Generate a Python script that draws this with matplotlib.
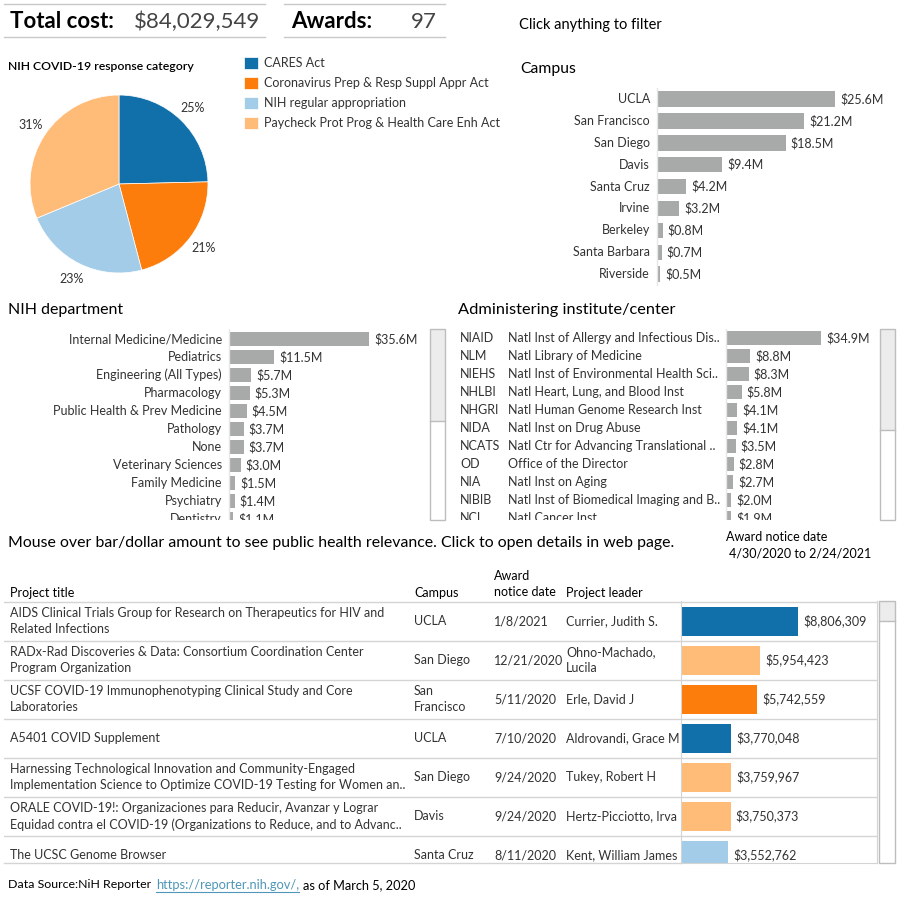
import matplotlib
matplotlib.use("Agg")
import matplotlib.pyplot as plt
from matplotlib.patches import Rectangle
from matplotlib.lines import Line2D

plt.rcParams['font.family'] = ['Lato', 'DejaVu Sans']

# ---------------- data ----------------
total_cost = "$84,029,549"
n_awards = "97"

categories = ["CARES Act", "Coronavirus Prep & Resp Suppl Appr Act",
              "NIH regular appropriation", "Paycheck Prot Prog & Health Care Enh Act"]
category_amounts = [20.7, 17.9, 19.2, 26.3]   # $M
cat_colors = ["#1170aa", "#fc7d0b", "#a3cce9", "#ffbc79"]

campuses = ["UCLA", "San Francisco", "San Diego", "Davis", "Santa Cruz",
            "Irvine", "Berkeley", "Santa Barbara", "Riverside"]
campus_amounts = [25.6, 21.2, 18.5, 9.4, 4.2, 3.2, 0.8, 0.7, 0.5]

departments = ["Internal Medicine/Medicine", "Pediatrics", "Engineering (All Types)",
               "Pharmacology", "Public Health & Prev Medicine", "Pathology", "None",
               "Veterinary Sciences", "Family Medicine", "Psychiatry", "Dentistry"]
dept_amounts = [35.6, 11.5, 5.7, 5.3, 4.5, 3.7, 3.7, 3.0, 1.5, 1.4, 1.1]

inst_codes = ["NIAID", "NLM", "NIEHS", "NHLBI", "NHGRI", "NIDA", "NCATS",
              "OD", "NIA", "NIBIB", "NCI"]
inst_names = ["Natl Inst of Allergy and Infectious Dis..", "Natl Library of Medicine",
              "Natl Inst of Environmental Health Sci..", "Natl Heart, Lung, and Blood Inst",
              "Natl Human Genome Research Inst", "Natl Inst on Drug Abuse",
              "Natl Ctr for Advancing Translational ..", "Office of the Director",
              "Natl Inst on Aging", "Natl Inst of Biomedical Imaging and B..",
              "Natl Cancer Inst"]
inst_amounts = [34.9, 8.8, 8.3, 5.8, 4.1, 4.1, 3.5, 2.8, 2.7, 2.0, 1.9]

proj_titles = ["AIDS Clinical Trials Group for Research on Therapeutics for HIV and\nRelated Infections",
               "RADx-Rad Discoveries & Data: Consortium Coordination Center\nProgram Organization",
               "UCSF COVID-19 Immunophenotyping Clinical Study and Core\nLaboratories",
               "A5401 COVID Supplement",
               "Harnessing Technological Innovation and Community-Engaged\nImplementation Science to Optimize COVID-19 Testing for Women an..",
               "ORALE COVID-19!: Organizaciones para Reducir, Avanzar y Lograr\nEquidad contra el COVID-19 (Organizations to Reduce, and to Advanc..",
               "The UCSC Genome Browser"]
proj_campus = ["UCLA", "San Diego", "San\nFrancisco", "UCLA", "San Diego", "Davis", "Santa Cruz"]
proj_dates = ["1/8/2021", "12/21/2020", "5/11/2020", "7/10/2020", "9/24/2020", "9/24/2020", "8/11/2020"]
proj_leaders = ["Currier, Judith S.", "Ohno-Machado,\nLucila", "Erle, David J", "Aldrovandi, Grace M",
                "Tukey, Robert H", "Hertz-Picciotto, Irva", "Kent, William James"]
proj_amounts = [8806309, 5954423, 5742559, 3770048, 3759967, 3750373, 3552762]
proj_category = [0, 3, 1, 0, 3, 3, 2]

# ---------------- layout helpers (pixel coords, 900x900) ----------------
W = H = 900
def fx(x): return x / W
def fy(y): return 1 - y / H

TXT = "#333333"
GRAY_BAR = "#a7aaa9"
LINE = "#d4d4d4"

fig = plt.figure(figsize=(9, 9), dpi=100)
fig.patch.set_facecolor("white")

def ftext(x, y, s, **kw):
    kw.setdefault("color", TXT)
    kw.setdefault("va", "center")
    fig.text(fx(x), fy(y), s, **kw)

def hline_px(x0, x1, y, color="#c8c8c8", lw=1.0):
    fig.add_artist(Line2D([fx(x0), fx(x1)], [fy(y), fy(y)], color=color, lw=lw))

def scrollbar(x0, x1, y0, y1, thumb_end):
    fig.add_artist(Rectangle((fx(x0), fy(thumb_end)), (x1 - x0) / W, (thumb_end - y0) / H,
                             facecolor="#ececec", edgecolor="none"))
    fig.add_artist(Rectangle((fx(x0), fy(y1)), (x1 - x0) / W, (y1 - y0) / H,
                             facecolor="none", edgecolor="#bdbdbd", lw=1))
    hline_px(x0, x1, thumb_end, color="#bdbdbd")

# ---------------- KPI header ----------------
hline_px(4, 265, 4); hline_px(4, 265, 37)
hline_px(284, 445, 4); hline_px(284, 445, 37)
ftext(10, 22, "Total cost:", fontsize=16, color="black", weight="bold")
ftext(260, 22, total_cost, fontsize=16, ha="right", color="#444444")
ftext(291, 22, "Awards:", fontsize=16, color="black", weight="bold")
ftext(437, 22, n_awards, fontsize=16, ha="right", color="#444444")
ftext(519, 25, "Click anything to filter", fontsize=10.5, color="black")

# ---------------- pie ----------------
ftext(8, 67, "NIH COVID-19 response category", fontsize=8.8, color="black", weight="semibold")
pax = fig.add_axes([fx(19), fy(284), 200 / W, 200 / H])
wedges, _, autotexts = pax.pie(category_amounts, colors=cat_colors, startangle=90,
                               counterclock=False, autopct="%1.0f%%", pctdistance=1.19,
                               textprops=dict(fontsize=9, color=TXT),
                               wedgeprops=dict(linewidth=0.5, edgecolor="white"))
pax.set_xlim(-1.124, 1.124); pax.set_ylim(-1.124, 1.124)
pax.set_aspect("equal")
fig.legend(wedges, categories, loc="upper left", bbox_to_anchor=(fx(244), fy(57)),
           frameon=False, fontsize=9, handlelength=1.1, handleheight=1.1,
           handletextpad=0.5, labelspacing=0.62, borderaxespad=0, borderpad=0,
           labelcolor=TXT)

# ---------------- horizontal bar panels ----------------
def bar_panel(x0, x1, y_top, y_bot, zero_px, ppm, row_px, first_y, values, bar_h):
    ax = fig.add_axes([fx(x0), fy(y_bot), (x1 - x0) / W, (y_bot - y_top) / H])
    ax.set_xlim(-(zero_px - x0) / ppm, (x1 - zero_px) / ppm)
    ax.set_ylim((y_bot - first_y) / row_px, (y_top - first_y) / row_px)
    ax.barh(range(len(values)), values, height=bar_h / row_px, color=GRAY_BAR)
    ax.axvline(0, color="#e6e6e6", lw=1)
    ax.axis("off")
    for i, v in enumerate(values):
        ax.text(v + 5 / ppm, i, f"${v:.1f}M", ha="left", va="center",
                fontsize=9, color=TXT, clip_on=True)
    return ax

# Campus
ftext(520, 69, "Campus", fontsize=11.3, color="black")
cax = bar_panel(540, 900, 88, 286, 657, 6.95, 21.9, 99, campus_amounts, 15.5)
for i, lab in enumerate(campuses):
    cax.text(-7 / 6.95, i, lab, ha="right", va="center", fontsize=9, color=TXT, clip_on=True)

# NIH department
ftext(8, 310, "NIH department", fontsize=11.5, color="black")
dax = bar_panel(8, 425, 329, 520, 229, 3.93, 18, 339, dept_amounts, 13.5)
for i, lab in enumerate(departments):
    dax.text(-7 / 3.93, i, lab, ha="right", va="center", fontsize=9, color=TXT, clip_on=True)
scrollbar(430, 445, 329, 520, 421)

# Administering institute
ftext(458, 310, "Administering institute/center", fontsize=11.8, color="black")
iax = bar_panel(455, 875, 329, 520, 726, 2.72, 18, 338, inst_amounts, 13.5)
for i, (c, n) in enumerate(zip(inst_codes, inst_names)):
    iax.text((460 - 726) / 2.72, i, c, ha="left", va="center", fontsize=9, color=TXT, clip_on=True)
    iax.text((508 - 726) / 2.72, i, n, ha="left", va="center", fontsize=9, color=TXT, clip_on=True)
scrollbar(880, 895, 329, 520, 430)

# ---------------- project table ----------------
ftext(8, 543, "Mouse over bar/dollar amount to see public health relevance. Click to open details in web page.",
      fontsize=11.4, color="black")
ftext(726, 537, "Award notice date", fontsize=9, color="black")
ftext(729, 553, "4/30/2020 to 2/24/2021", fontsize=9, color="black")

ftext(10, 593, "Project title", fontsize=9, color="black")
ftext(414, 593, "Campus", fontsize=9, color="black")
ftext(494, 576, "Award", fontsize=9, color="black")
ftext(494, 592, "notice date", fontsize=9, color="black")
ftext(566, 593, "Project leader", fontsize=9, color="black")

ROW = 39.0
FIRST = 621.2
ylim_t = ((863 - FIRST) / ROW, (601 - FIRST) / ROW)
nrows = len(proj_titles)

tax = fig.add_axes([fx(4), fy(863), (877 - 4) / W, (863 - 601) / H])
tax.set_xlim(4, 877); tax.set_ylim(*ylim_t)
tax.axis("off")
for k in range(-1, nrows):
    tax.axhline(k + 0.5, color=LINE, lw=1)
for i in range(nrows):
    for x, s in ((10, proj_titles[i]), (414, proj_campus[i]), (494, proj_dates[i]), (566, proj_leaders[i])):
        tax.text(x, i, s, ha="left", va="center", fontsize=9, color=TXT,
                 linespacing=1.45, clip_on=True)

bax = fig.add_axes([fx(681), fy(863), (877 - 681) / W, (863 - 601) / H])
bax.set_facecolor("white")
bax.set_xlim(0, 196 / 13.3); bax.set_ylim(*ylim_t)
amounts_m = [a / 1e6 for a in proj_amounts]
bax.barh(range(nrows), amounts_m, height=29 / ROW,
         color=[cat_colors[c] for c in proj_category])
for k in range(-1, nrows):
    bax.axhline(k + 0.5, color=LINE, lw=1)
for i, a in enumerate(proj_amounts):
    bax.text(amounts_m[i] + 5 / 13.3, i, f"${a:,}", ha="left", va="center",
             fontsize=9, color=TXT, clip_on=True)
bax.set_xticks([]); bax.set_yticks([])
bax.spines["top"].set_visible(False)
for side in ("left", "right", "bottom"):
    bax.spines[side].set_color(LINE)
hline_px(4, 681, 863, color=LINE)
scrollbar(879, 895, 601, 863, 621)

# ---------------- footer ----------------
ftext(8, 885, "Data Source:NiH Reporter", fontsize=8.9, color="black")
ftext(156, 885, "https://reporter.nih.gov/,", fontsize=9.3, color="#4f97b8")
hline_px(156, 299, 892, color="#4f97b8", lw=0.8)
ftext(303, 885, "as of March 5, 2020", fontsize=9.2, color="black")

fig.savefig("out.png", dpi=100, facecolor="white")
